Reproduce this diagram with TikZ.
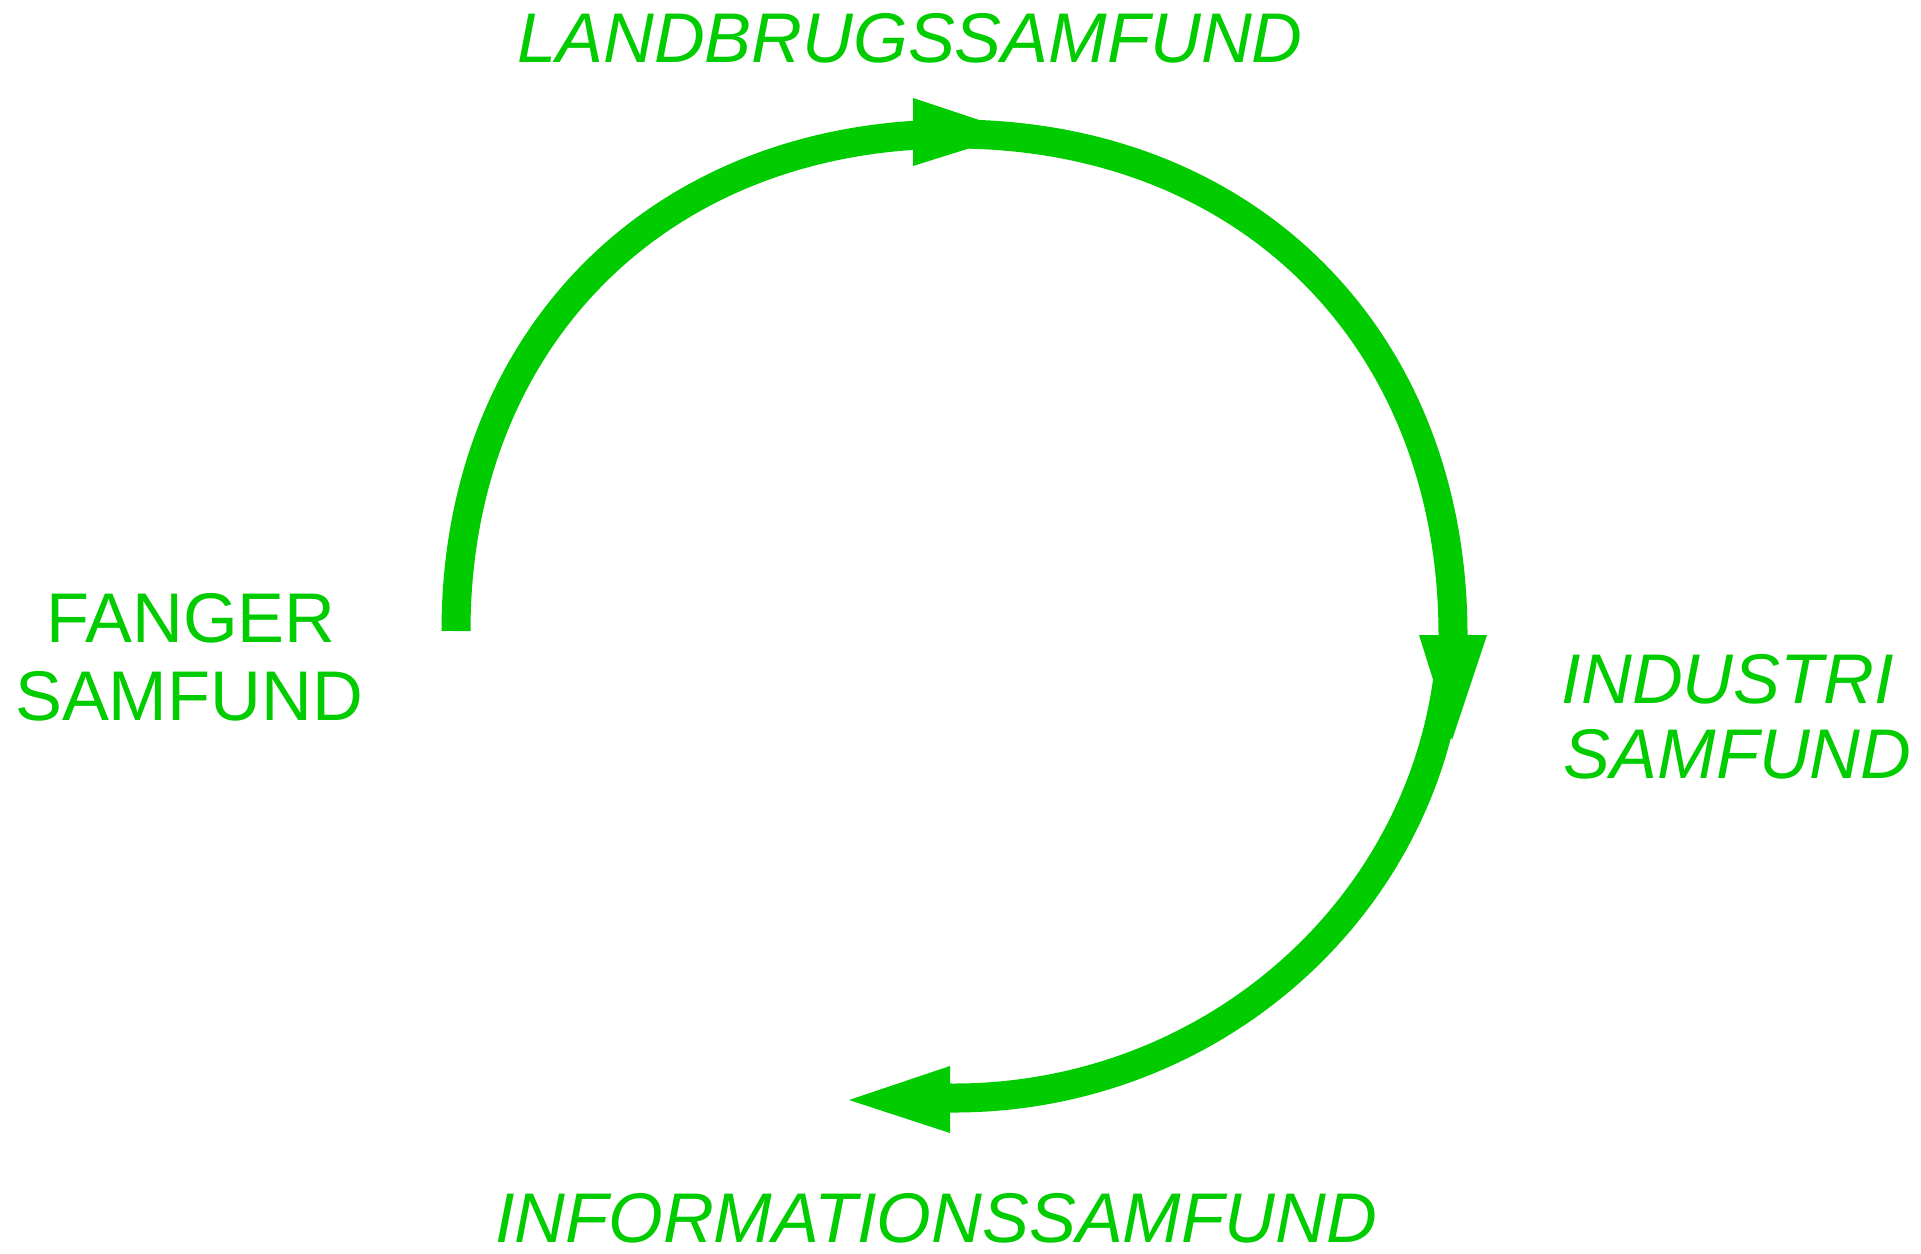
\documentclass[tikz,border=0pt]{standalone}
\usepackage{fontspec}
\setmainfont{Liberation Sans}
\definecolor{sgreen}{RGB}{0,204,0}
\begin{document}
\begin{tikzpicture}[x=0.01cm,y=0.01cm,
  flow/.style={draw=sgreen, line width=0.29cm},
  head/.style={fill=sgreen},
  lab/.style={text=sgreen, inner sep=0pt, font=\fontsize{20pt}{24pt}\selectfont},
  ilab/.style={lab, font=\fontsize{20pt}{24pt}\selectfont\itshape}]
\useasboundingbox (0,0) rectangle (1921,1253);
% labels
\node[ilab, anchor=base] (land) at (910,1191) {LANDBRUGSSAMFUND};
\node[lab, anchor=base] (fang1) at (191,611) {FANGER};
\node[lab, anchor=base] (fang2) at (189,533) {SAMFUND};
\node[ilab, anchor=base west] (ind1) at (1561,550) {INDUSTRI};
\node[ilab, anchor=base west] (ind2) at (1563,475) {SAMFUND};
\node[ilab, anchor=base] (info) at (936,11) {INFORMATIONSSAMFUND};
% arc end points
\coordinate (a1s) at (456,622);
\coordinate (top) at (954,1119);
\coordinate (a2e) at (1453,618);
\coordinate (a3s) at (1449.3,586.6);
% arcs
\draw[flow] (a1s) .. controls (456,915) and (660,1119) .. (top);
\draw[flow] (top) .. controls (1248,1119) and (1453,914) .. (a2e);
\draw[flow] (a3s) arc[start angle=-6, end angle=-90.5, x radius=498, y radius=482] coordinate (a3e);
% arrow heads
\fill[head] (913,1155) -- (913,1087) -- (1018,1120) -- cycle;
\fill[head] (1419,618) -- (1487,618) -- (1452,513) -- cycle;
\fill[head] (950,187) -- (950,120) -- (849,153) -- cycle;
\end{tikzpicture}
\end{document}
